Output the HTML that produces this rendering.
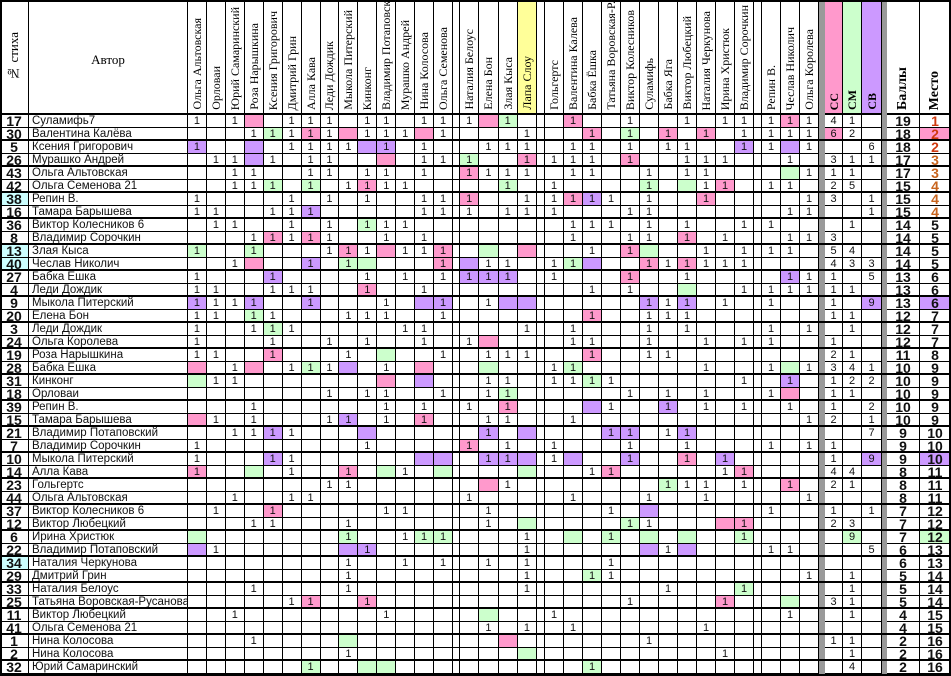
<!DOCTYPE html>
<html><head><meta charset="utf-8">
<style>
html,body{margin:0;padding:0;background:#fff;}
#t{position:relative;width:951px;height:676px;overflow:hidden;background:#fff;font-family:"Liberation Sans",sans-serif;}
.c{position:absolute;box-sizing:border-box;border-right:1px solid #000;border-bottom:1px solid #000;font-size:11px;line-height:12px;text-align:center;color:#111;white-space:nowrap;overflow:hidden;}
.h{position:absolute;box-sizing:border-box;border-right:1px solid #000;border-bottom:2px solid #000;}
.vt{position:absolute;bottom:3px;left:50%;writing-mode:vertical-rl;transform:translateX(-50%) rotate(180deg);font-family:"Liberation Serif",serif;font-size:12px;line-height:14px;white-space:nowrap;}
.ln{position:absolute;background:#000;}
</style></head><body>
<div id="t"></div>
<script>
const voterNames=["Ольга Альтовская","Орловаи","Юрий Самаринский","Роза Нарышкина","Ксения Григорович","Дмитрий Грин","Алла Кава","Леди Дождик","Мыкола Питерский","Кинконг","Владимир Потаповский","Мурашко Андрей","Нина Колосова","Ольга Семенова","Наталия Белоус","Елена Бон","Злая Кыса","Лапа Слоу","Гольгертс","Валентина Калева","Бабка Ёшка","Татьяна Воровская-Р.","Виктор Колесников","Суламифь","Бабка Яга","Виктор Любецкий","Наталия Черкунова","Ирина Христюк","Владимир Сорочкин","Репин В.","Чеслав Николич","Ольга Королева"];
const poemNums=[17,30,5,26,43,42,38,16,36,8,13,40,27,4,9,20,3,24,19,28,31,18,39,15,21,7,10,14,23,44,37,12,6,22,34,29,33,25,11,41,1,2,32];
const authors=["Суламифь7","Валентина Калёва","Ксения Григорович","Мурашко Андрей","Ольга Альтовская","Ольга Семенова 21","Репин В.","Тамара Барышева","Виктор Колесников 6","Владимир Сорочкин","Злая Кыса","Чеслав Николич","Бабка Ешка","Леди Дождик","Мыкола Питерский","Елена Бон","Леди Дождик","Ольга Королева","Роза Нарышкина","Бабка Ешка","Кинконг","Орловаи","Репин В.","Тамара Барышева","Владимир Потаповский","Владимир Сорочкин","Мыкола Питерский","Алла Кава","Гольгертс","Ольга Альтовская","Виктор Колесников 6","Виктор Любецкий","Ирина Христюк","Владимир Потаповский","Наталия Черкунова","Дмитрий Грин","Наталия Белоус","Татьяна Воровская-Русанова","Виктор Любецкий","Ольга Семенова 21","Нина Колосова","Нина Колосова","Юрий Самаринский"];
const votes=[
"1.1P. 111.1 1.111 Pg..p ..1.. 1.111 p1",
"...1g 1p1P1 11P1. ..1.. p.g.p .p.11 11",
"v..V. 1111V v.1.. 111.1 1.1.1 1..v1 V1",
".11V1 .11.. P.11g ..p11 1.p.. 111.. 1.",
"..11. .11.1 1.1.p 111.1 1..1. 11... G1",
"..11g .g.1p 11... .g.1. ...g. G1p.1 1.",
"1.... 1.1.1 ..11p ..11p v1.1. .p... .1",
"11..1 1v... ..111 .111. ..11. ..... 11",
".11.. 1.1.g 11... ....1 11.1. 1..11 ..",
"...1p 1p1.. 1.1.. ....1 ..11. p.1.. 11",
"g..g. ..1p1 P11p. G.P.. 1.pG. .1.11 1.",
"..1P. .v.gG ...pV 11.1g V..p1 p111. ..",
"1...v ....1 .1.1v vv.1. ..p.. 1.... v1",
"11..1 11..p ..1.. ..... 1.1.. G..11 11",
"v11v. .v... 1.Vv. 1VV.. ...v1 v.1.1 ..",
"11.g1 ...11 1..1. ..... p..11 1.... ..",
"1..1g 1.... .11.. ..1.1 ...1. 1...1 .1",
"1...1 ..1.1 ..1.1 P...1 1..1. .1.11 ..",
"11..p ...1. G..1. 111.. p..11 ..... ..",
"P.1P. 1g1V. 1.P.. G..1g ..... .1..1 G1",
"G11.. ..... P.V.. 11.11 g1... ...1. v.",
"..... ..1.1 1..1. 1g... ..1.1 .1..1 P.",
"...1. ..... 1.1.1 .p... V1..v .1.1. 1.",
"P1.1. ..1v. 1.p.. 11..1 ..... ..... .1",
"..11v 1...V ..... v.V.. .vv.1 v.... ..",
"1.... ....1 ....p .1.1. ..1.. 1...1 .1",
"1...v 1.... ..VV. vvV1V ..v.. p.v.. ..",
"p..G. 1..p. G1.G. ..G.. 1p... ..1p. ..",
"..... ..11. ..... P1... ....g 11.1. p.",
"..1.. 11... ....1 ....1 ...1. .1... .1",
".1..p ..... 11... 1.... .1.V. ....1 ..",
"...11 ...1. ..... 1.G.. ..g1. ..Pp. ..",
"G.... ...g. .1gg. ..1.G .g.G. G..g. ..",
"V1... ...Vv ..... ..1.. ...V1 V...1 1.",
"..... ...1. .1.1. 1.1.. .1... ..... ..",
"..... ...1. ..... ..1.. g1... ..... .1",
"...1. ...1. ..... ..1.. ....1 ...g. ..",
"..... 1p..p ..... ..... ..1.. ..p.. G.",
"..1.. ..... 1.... G..1. ..... ..... 1.",
"..... ..... ..... 1.1.1 ..... .1... ..",
"...1. ...G. ..... .P... ...1. ..... ..",
"..... ...1. ..... ..G.. ..... ..1.. ..",
"..... .g..G G.... ..... g.... ..... .."];
const ccVals=[4,6,"",3,1,2,3,"","",3,5,4,1,1,1,1,"",1,2,3,1,1,1,2,"",1,1,4,2,"",1,2,"","","","","",3,"","",1,"",""];
const cmVals=[1,2,"",1,1,5,"","",1,"",4,3,"",1,"",1,1,"",1,4,2,1,"","","","","",4,1,"","",3,9,"","",1,1,1,1,"",1,1,4];
const cbVals=["","",6,1,"","",1,1,"","","",3,5,"",9,"","","","",1,2,"",2,1,7,"",9,"","","",1,"","",5,"","","","","","","","",""];
const scores=[19,18,18,17,17,15,15,15,14,14,14,14,13,13,13,12,12,12,11,10,10,10,10,10,9,9,9,8,8,8,7,7,7,6,6,5,5,5,4,4,2,2,2];
const places=[1,2,2,3,3,4,4,4,5,5,5,5,6,6,6,7,7,7,8,9,9,9,9,9,10,10,10,11,11,11,12,12,12,13,13,14,14,14,15,15,16,16,16];
const blueNums=[38,13,40,34];

const T=document.getElementById('t');
const HEAD=115, RH=13;
const COLORS={p:'#ff99cc',P:'#ff99cc',g:'#ccffcc',G:'#ccffcc',v:'#cc99ff',V:'#cc99ff'};
function colX(i){
  if(i<14) return {x:188+i*18.93,w:18.93};
  if(i<18) return {x:460+(i-14)*19.25,w:19.25};
  if(i<29) return {x:545+(i-18)*19,w:19};
  return {x:762+(i-29)*19,w:19};
}
function mk(cls,x,y,w,h){
  const d=document.createElement('div');
  d.className=cls;
  d.style.left=x+'px';d.style.top=y+'px';d.style.width=w+'px';d.style.height=h+'px';
  T.appendChild(d);return d;
}
function vhead(x,w,text,bg,bold,size){
  const d=mk('h',x,0,w,HEAD);
  if(bg) d.style.background=bg;
  const s=document.createElement('span');
  s.className='vt';s.textContent=text;
  if(bold){s.style.fontWeight='bold';}
  if(size){s.style.fontSize=size+'px';}
  d.appendChild(s);
  return d;
}
// header
let h=mk('h',0,0,29,HEAD);


let s=document.createElement('span');s.className='vt';s.textContent='№ стиха';s.style.bottom='32px';s.style.fontSize='13px';h.appendChild(s);
h=mk('h',29,0,159,HEAD);


h.style.fontFamily='"Liberation Serif",serif';h.style.fontSize='13px';h.style.textAlign='center';h.style.lineHeight='120px';h.textContent='Автор';
for(let i=0;i<32;i++){
  const c=colX(i);
  const d=vhead(c.x,c.w,voterNames[i],i===17?'#ffff99':null,false,12);
  
  
}
const gaps=[[453,7],[537,8],[754,8]];
gaps.forEach(g=>{
  const d=mk('h',g[0],0,g[1],HEAD);
  
  
});
let d;
d=vhead(825,18,'СС','#ff99cc',true,12);


d=vhead(843,19,'СМ','#ccffcc',true,12);


d=vhead(862,20,'СВ','#cc99ff',true,12);


d=vhead(887,33,'Баллы',null,true,14);


d=vhead(920,31,'Место',null,true,14);



// rows
for(let r=0;r<poemNums.length;r++){
  const y=HEAD+r*RH;
  let c=mk('c',0,y,29,RH);
  
  
  c.textContent=poemNums[r];c.style.fontWeight='bold';c.style.fontSize='14px';c.style.lineHeight='13px';
  if(blueNums.indexOf(poemNums[r])>=0) c.style.background='#ccffff';
  c=mk('c',29,y,159,RH);
  
  
  c.textContent=authors[r];c.style.textAlign='left';c.style.paddingLeft='3px';c.style.fontSize='11.5px';
  const v=votes[r].replace(/ /g,'');
  for(let i=0;i<32;i++){
    const cx=colX(i);
    const ch=v[i]||'.';
    c=mk('c',cx.x,y,cx.w,RH);
    
    
    if(COLORS[ch]) c.style.background=COLORS[ch];
    if(ch==='1'||ch==='p'||ch==='g'||ch==='v') c.textContent='1';
  }
  gaps.forEach(g=>{
    const gc=mk('c',g[0],y,g[1],RH);
    
    
  });
  const sep1=mk('c',819,y,6,RH);sep1.style.background='#9a9a9a';sep1.style.border='none';
  
  
  c=mk('c',825,y,18,RH);c.textContent=ccVals[r];
  
  
  if(ccVals[r]===6) c.style.background='#ff99cc';
  c=mk('c',843,y,19,RH);c.textContent=cmVals[r];
  
  
  if(cmVals[r]===9) c.style.background='#ccffcc';
  c=mk('c',862,y,20,RH);c.textContent=cbVals[r];
  
  
  if(cbVals[r]===9) c.style.background='#cc99ff';
  const sep2=mk('c',882,y,5,RH);sep2.style.background='#9a9a9a';sep2.style.border='none';
  
  
  c=mk('c',887,y,33,RH);c.textContent=scores[r];
  
  
  c.style.fontWeight='bold';c.style.fontSize='14px';c.style.lineHeight='13px';
  c=mk('c',920,y,31,RH);c.textContent=places[r];
  
  
  c.style.fontWeight='bold';c.style.fontSize='14px';c.style.lineHeight='13px';
  if(places[r]<=2) c.style.color='#d03a10';
  else if(places[r]<=4) c.style.color='#c8641e';
  if(r===1) c.style.background='#ff99cc';
  if(cbVals[r]===9) c.style.background='#cc99ff';
  if(cmVals[r]===9) c.style.background='#ccffcc';
}
// thick row separators every two rows
for(let r=2;r<poemNums.length;r+=2){
  const l=mk('ln',0,HEAD+r*RH-2,951,2);
  
  
}
// gray header separators
let gs=mk('ln',819,0,6,HEAD);gs.style.background='#9a9a9a';


gs=mk('ln',882,0,5,HEAD);gs.style.background='#9a9a9a';


// outer frame
const f=mk('ln',0,0,951,676);
f.style.background='transparent';f.style.boxSizing='border-box';f.style.border='2px solid #000';


</script>
</body></html>
